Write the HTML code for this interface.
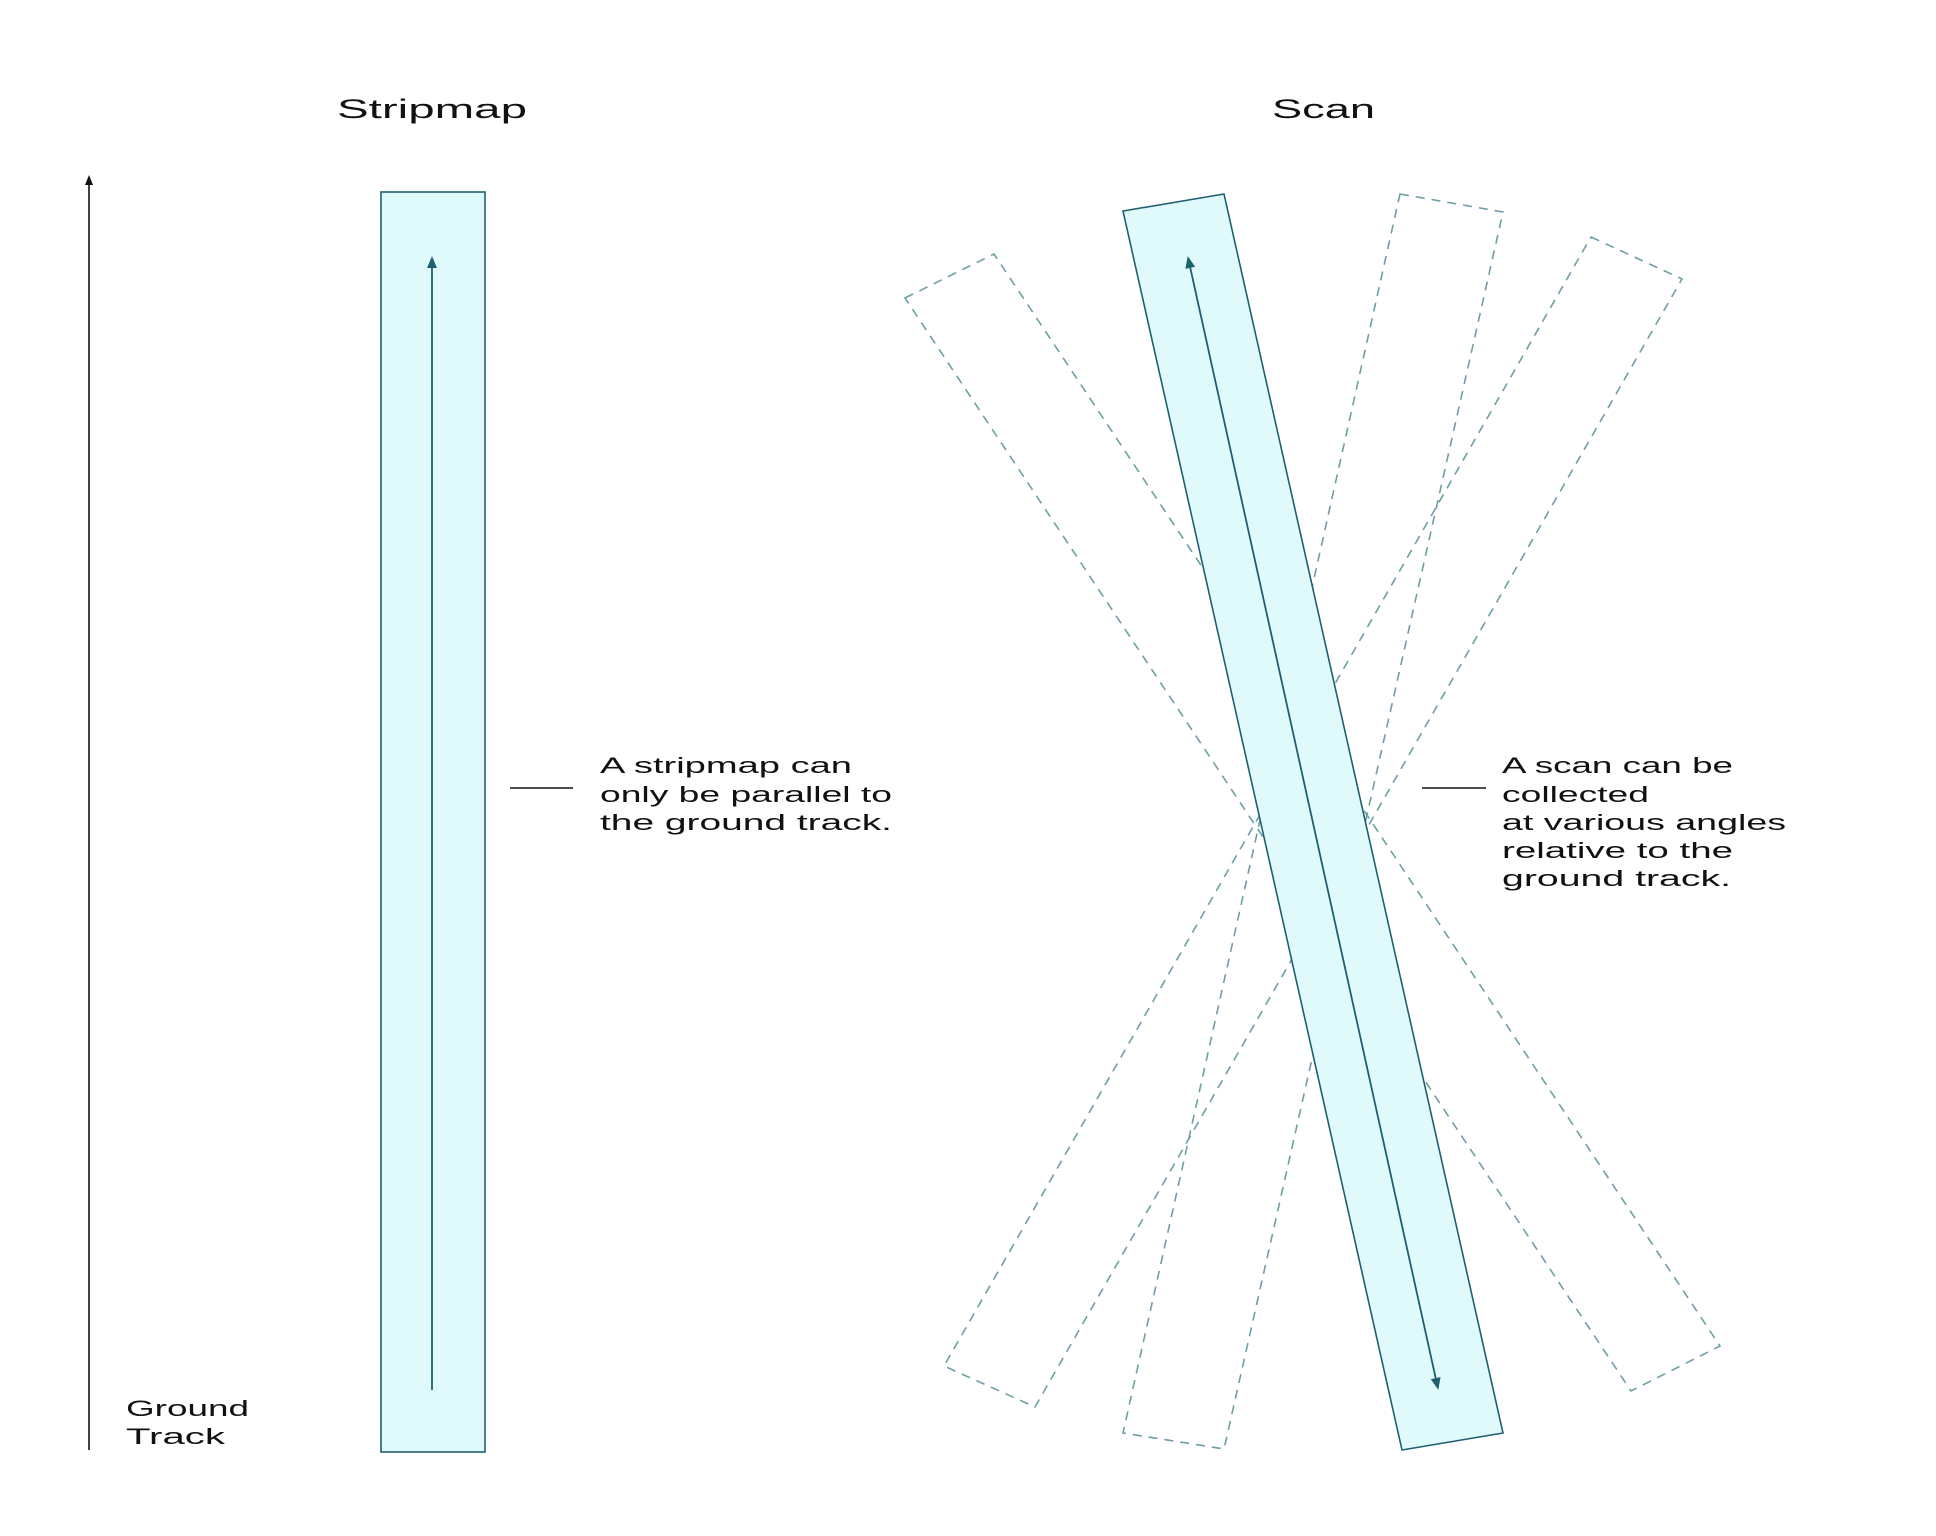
<!DOCTYPE html>
<html><head><meta charset="utf-8"><style>
html,body{margin:0;padding:0;background:#fff;}
svg{display:block;}
text{font-family:"Liberation Sans",sans-serif;fill:#111;}
</style></head><body>
<svg width="1936" height="1536" viewBox="0 0 1936 1536" xmlns="http://www.w3.org/2000/svg">
<defs>
<marker id="ab" markerWidth="10" markerHeight="10" refX="5" refY="5" orient="auto" markerUnits="userSpaceOnUse"><path d="M0,1 L10,5 L0,9 z" fill="#111"/></marker>
<marker id="at" markerWidth="12" markerHeight="12" refX="6" refY="6" orient="auto" markerUnits="userSpaceOnUse"><path d="M0,1 L12,6 L0,11 z" fill="#1f6070"/></marker>
<marker id="as" markerWidth="12" markerHeight="12" refX="6" refY="6" orient="auto-start-reverse" markerUnits="userSpaceOnUse"><path d="M0,1 L12,6 L0,11 z" fill="#1f6070"/></marker>
</defs>
<text x="337" y="118" font-size="27" textLength="190" lengthAdjust="spacingAndGlyphs">Stripmap</text>
<text x="1272" y="118" font-size="27" textLength="103" lengthAdjust="spacingAndGlyphs">Scan</text>

<line x1="89" y1="1450" x2="89" y2="180" stroke="#111" stroke-width="1.6" marker-end="url(#ab)"/>
<text x="126" y="1416" font-size="22" textLength="123" lengthAdjust="spacingAndGlyphs">Ground</text>
<text x="126" y="1444" font-size="22" textLength="99" lengthAdjust="spacingAndGlyphs">Track</text>

<rect x="381" y="192" width="104" height="1260" fill="#e0f9fb" stroke="#1f6070" stroke-width="1.6"/>
<line x1="432" y1="1390" x2="432" y2="262" stroke="#1f6070" stroke-width="1.8" marker-end="url(#at)"/>

<line x1="510" y1="788" x2="573" y2="788" stroke="#111" stroke-width="1.6"/>
<text x="600" y="773" font-size="22" textLength="252" lengthAdjust="spacingAndGlyphs">A stripmap can</text>
<text x="600" y="802" font-size="22" textLength="292" lengthAdjust="spacingAndGlyphs">only be parallel to</text>
<text x="600" y="830" font-size="22" textLength="292" lengthAdjust="spacingAndGlyphs">the ground track.</text>

<g fill="none" stroke="#6d9fa6" stroke-width="1.6" stroke-dasharray="9,7">
<polygon points="905,298 994,254 1720,1346 1631,1391"/>
<polygon points="1400,194 1503,212 1224,1449 1123,1433"/>
<polygon points="1591,237 1682,279 1035,1407 944,1366"/>
</g>
<polygon points="1123,211 1224,194 1503,1433 1402,1450" fill="#e0f9fb" stroke="#1f6070" stroke-width="1.6"/>
<line x1="1189" y1="262" x2="1437" y2="1384" stroke="#1f6070" stroke-width="1.8" marker-start="url(#as)" marker-end="url(#at)"/>

<line x1="1422" y1="788" x2="1486" y2="788" stroke="#111" stroke-width="1.6"/>
<text x="1502" y="773" font-size="22" textLength="231" lengthAdjust="spacingAndGlyphs">A scan can be</text>
<text x="1502" y="802" font-size="22" textLength="147" lengthAdjust="spacingAndGlyphs">collected</text>
<text x="1502" y="830" font-size="22" textLength="284" lengthAdjust="spacingAndGlyphs">at various angles</text>
<text x="1502" y="858" font-size="22" textLength="231" lengthAdjust="spacingAndGlyphs">relative to the</text>
<text x="1502" y="886" font-size="22" textLength="229" lengthAdjust="spacingAndGlyphs">ground track.</text>
</svg>
</body></html>
